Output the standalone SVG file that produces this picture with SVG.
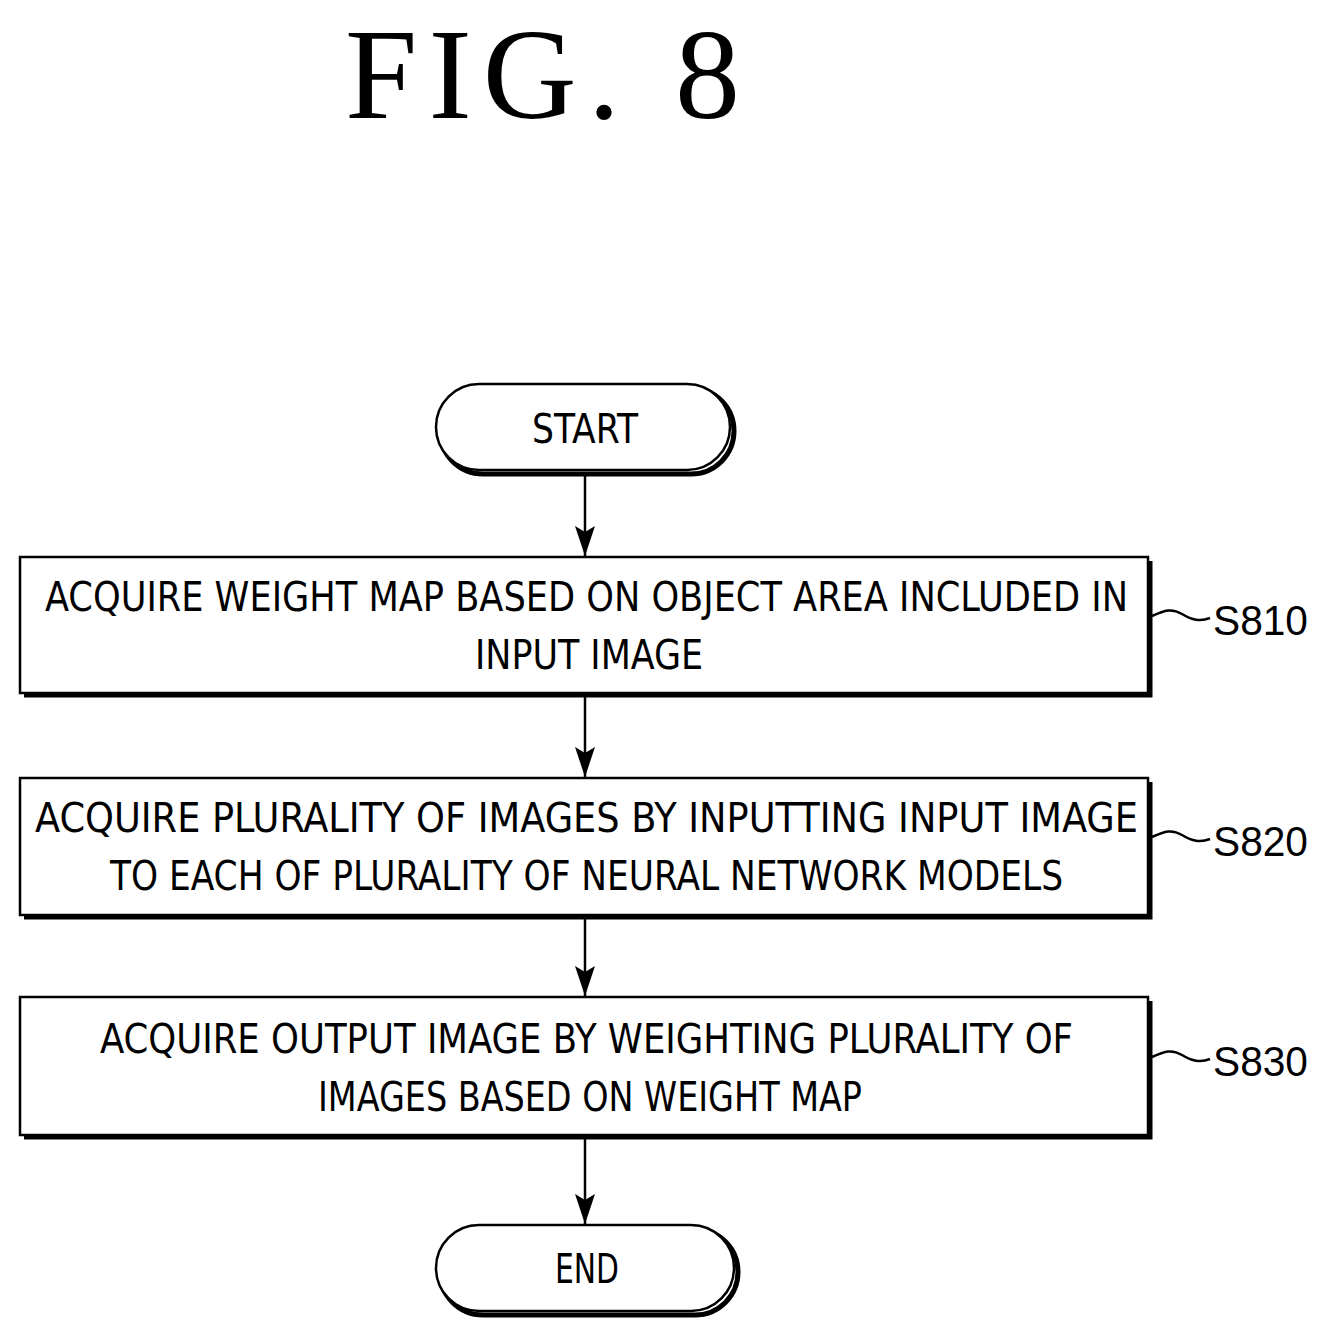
<svg xmlns="http://www.w3.org/2000/svg" width="1328" height="1338" viewBox="0 0 1328 1338">
<defs>
<marker id="ah" markerWidth="20" markerHeight="30" refX="10" refY="30" orient="0" markerUnits="userSpaceOnUse" viewBox="0 0 20 30"><path d="M0,0 L10,30 L20,0 L10,6 z" fill="#000"/></marker>
</defs>
<style>
.t{font-family:"DejaVu Sans Condensed","Liberation Sans",sans-serif;font-size:40px;fill:#000}
.b{fill:#fff;stroke:#000;stroke-width:2.5}
.s{fill:none;stroke:#000;stroke-width:5}
.c{fill:none;stroke:#000;stroke-width:2.5}
</style>
<rect width="1328" height="1338" fill="#fff"/>
<text x="345" y="118" font-family="Liberation Serif,serif" font-size="130" textLength="395" lengthAdjust="spacing">FIG. 8</text>
<g id="start">
<rect x="440" y="388" width="294" height="86" rx="43" class="s"/>
<rect x="436" y="384" width="294" height="86" rx="43" class="b"/>
<text x="585" y="443" class="t" text-anchor="middle" textLength="106" lengthAdjust="spacingAndGlyphs">START</text>
</g>
<g id="s810">
<path d="M24,695 H1150 V561" class="s"/>
<rect x="20" y="557" width="1128" height="136" class="b"/>
<text x="45" y="611" class="t" textLength="1083" lengthAdjust="spacingAndGlyphs">ACQUIRE WEIGHT MAP BASED ON OBJECT AREA INCLUDED IN</text>
<text x="475" y="669" class="t" textLength="228" lengthAdjust="spacingAndGlyphs">INPUT IMAGE</text>
<text x="1213" y="635" font-family="Liberation Sans,sans-serif" font-size="42" textLength="95" lengthAdjust="spacingAndGlyphs">S810</text>
</g>
<g id="s820">
<path d="M24,917 H1150 V782" class="s"/>
<rect x="20" y="778" width="1128" height="137" class="b"/>
<text x="35" y="832" class="t" textLength="1103" lengthAdjust="spacingAndGlyphs">ACQUIRE PLURALITY OF IMAGES BY INPUTTING INPUT IMAGE</text>
<text x="110" y="890" class="t" textLength="953" lengthAdjust="spacingAndGlyphs">TO EACH OF PLURALITY OF NEURAL NETWORK MODELS</text>
<text x="1213" y="856" font-family="Liberation Sans,sans-serif" font-size="42" textLength="95" lengthAdjust="spacingAndGlyphs">S820</text>
</g>
<g id="s830">
<path d="M24,1137 H1150 V1001" class="s"/>
<rect x="20" y="997" width="1128" height="138" class="b"/>
<text x="100" y="1053" class="t" textLength="973" lengthAdjust="spacingAndGlyphs">ACQUIRE OUTPUT IMAGE BY WEIGHTING PLURALITY OF</text>
<text x="318" y="1111" class="t" textLength="544" lengthAdjust="spacingAndGlyphs">IMAGES BASED ON WEIGHT MAP</text>
<text x="1213" y="1076" font-family="Liberation Sans,sans-serif" font-size="42" textLength="95" lengthAdjust="spacingAndGlyphs">S830</text>
</g>
<g id="end">
<rect x="440" y="1229" width="298" height="86" rx="43" class="s"/>
<rect x="436" y="1225" width="298" height="86" rx="43" class="b"/>
<text x="587" y="1283" class="t" text-anchor="middle" textLength="64" lengthAdjust="spacingAndGlyphs">END</text>
</g>
<g id="connectors">
<path d="M585,472 V556" class="c" marker-end="url(#ah)"/>
<path d="M585,697 V777" class="c" marker-end="url(#ah)"/>
<path d="M585,919 V996" class="c" marker-end="url(#ah)"/>
<path d="M585,1139 V1224" class="c" marker-end="url(#ah)"/>
<path d="M1152,616 C1165,610 1172,608 1182,614 S1200,622 1210,618" class="c"/>
<path d="M1152,837 C1165,831 1172,829 1182,835 S1200,843 1210,839" class="c"/>
<path d="M1152,1057 C1165,1051 1172,1049 1182,1055 S1200,1063 1210,1059" class="c"/>
</g>
</svg>
